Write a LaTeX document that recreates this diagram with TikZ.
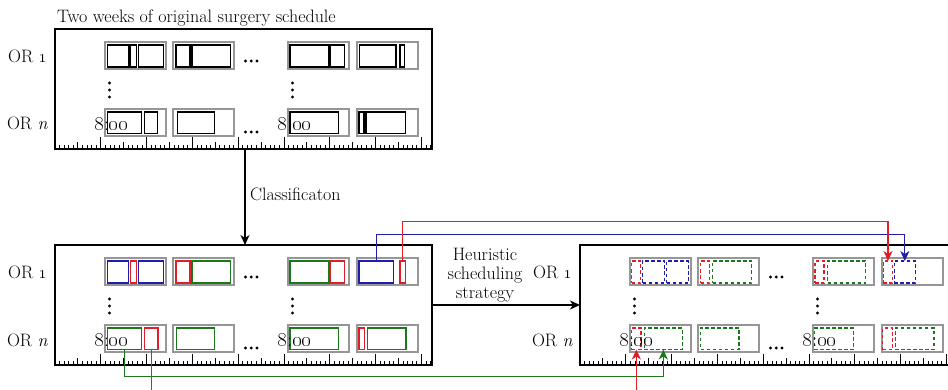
\documentclass[tikz,border=0pt]{standalone}
\usetikzlibrary{arrows.meta,calc}

\definecolor{jobblue}{RGB}{30,30,170}
\definecolor{jobred}{RGB}{225,30,40}
\definecolor{jobgreen}{RGB}{25,120,25}
\definecolor{slotgray}{RGB}{150,150,150}

\tikzset{
  every node/.style={font=\fontsize{18}{19}\selectfont, inner sep=0pt, outer sep=0pt},
  timelabel/.style={font=\fontsize{19.5}{20}\selectfont, anchor=base west},
  panel/.style={draw=black, line width=1.4pt, minimum width=377pt, minimum height=120pt, anchor=north west},
  tickline/.style={line width=0.9pt},
  slotbox/.style={draw=slotgray, line width=1.7pt, minimum width=61pt, minimum height=27pt, anchor=north west},
  blk/.style={draw=black, line width=1.15pt},
  blu/.style={draw=jobblue, line width=1.15pt},
  rd/.style={draw=jobred, line width=1.15pt},
  grn/.style={draw=jobgreen, line width=1.15pt},
  dashjob/.style={line width=1.15pt, dash pattern=on 3.5pt off 2.5pt},
  dblu/.style={draw=jobblue, dashjob},
  drd/.style={draw=jobred, dashjob},
  dgrn/.style={draw=jobgreen, dashjob},
  flow/.style={line width=1.2pt, -{Stealth[length=10pt,width=9pt,inset=3pt]}},
  link/.style={line width=1.1pt, -{Stealth[length=10pt,width=9pt,inset=3pt]}}
}

% one job: style, name, left, right, top, bottom (panel-relative)
\newcommand\jobbox[6]{%
  \node[#1, minimum width={(#4)-(#3)}, minimum height={(#6)-(#5)}] (#2) at ({(#3+#4)/2},{(#5+#6)/2}) {};}
\newcommand\jobone[4]{\jobbox{#1}{#2}{#3}{#4}{16}{38}}
\newcommand\jobnth[4]{\jobbox{#1}{#2}{#3}{#4}{83}{104.5}}

% frame, time ruler, day slots and row labels of one schedule panel
\newcommand\drawpanel[1]{%
  \node[panel] (#1) at (0,0) {};
  \foreach \i in {0,...,82}{%
    \pgfmathsetmacro\tk{mod(\i,10)==0 ? 11.5 : (mod(\i,5)==0 ? 7 : 4)}%
    \draw[tickline] (\i*4.58,120) -- ++(0,-\tk);
  }
  \foreach \rw/\yy in {1/13,n/80}{%
    \foreach \cl/\xx in {1/50,2/118,3/233,4/302}{%
      \node[slotbox] (#1-slot\rw\cl) at (\xx,\yy) {};
    }
  }
  \foreach \xx in {54.5,237.5}{\foreach \yy in {54,61,68}{\fill (\xx,\yy) circle[radius=1.7pt];}}
  \foreach \xx in {190.5,196.3,202}{\foreach \yy in {32,103}{\fill (\xx,\yy) circle[radius=1.6pt];}}
  \node[anchor=base] (#1-or1) at (-27.5,34) {OR \oldstylenums{1}};
  \node[anchor=base] (#1-orn) at (-27.5,101) {OR \textit{n}};
}
\newcommand\startlabels[1]{%
  \node[timelabel] (#1-ta) at (39.5,101.5) {\oldstylenums{8}:\oldstylenums{00}};
  \node[timelabel] (#1-tb) at (222.8,101.5) {\oldstylenums{8}:\oldstylenums{00}};
}

\begin{document}
\begin{tikzpicture}[x=1pt,y=-1pt]
\useasboundingbox (0,0) rectangle (948,390);
\clip (0,0) rectangle (948,390);

\node[anchor=base west] (title) at (57,22.5) {Two weeks of original surgery schedule};

% original schedule
\begin{scope}[shift={(55,29)}]
  \drawpanel{orig}
  \jobone{blk}{orig-b1a}{52.3}{74}
  \jobone{blk}{orig-b1b}{75.3}{81.7}
  \jobone{blk}{orig-b1c}{83.3}{108.3}
  \jobone{blk}{orig-b2a}{121}{135}
  \jobone{blk}{orig-b2b}{137}{175.7}
  \jobone{blk}{orig-b3a}{235}{274}
  \jobone{blk}{orig-b3b}{275.7}{289.7}
  \jobone{blk}{orig-b4a}{304.3}{341}
  \jobone{blk}{orig-b4b}{345}{349.7}
  \jobnth{blk}{orig-n1a}{52.3}{86.7}
  \jobnth{blk}{orig-n1b}{89.3}{102.3}
  \jobnth{blk}{orig-n2a}{122.3}{159.3}
  \jobnth{blk}{orig-n3a}{235}{283.3}
  \jobnth{blk}{orig-n4a}{304}{309}
  \jobnth{blk}{orig-n4b}{311}{350.3}
  \startlabels{orig}
\end{scope}

% classified schedule
\begin{scope}[shift={(55,245)}]
  \drawpanel{sched}
  \jobone{blu}{sched-b1a}{52.7}{73.7}
  \jobone{rd}{sched-b1b}{75.3}{81.7}
  \jobone{blu}{sched-b1c}{83.7}{108.3}
  \jobone{rd}{sched-b2a}{121}{135}
  \jobone{grn}{sched-b2b}{137}{175.7}
  \jobone{grn}{sched-b3a}{235}{274}
  \jobone{rd}{sched-b3b}{275.7}{289.7}
  \jobone{blu}{sched-b4a}{304}{338.3}
  \jobone{rd}{sched-b4b}{345}{350.3}
  \jobnth{grn}{sched-n1a}{52.7}{86.7}
  \jobnth{rd}{sched-n1b}{89.3}{103}
  \jobnth{grn}{sched-n2a}{121.7}{159.3}
  \jobnth{grn}{sched-n3a}{235}{283.3}
  \jobnth{rd}{sched-n4a}{304}{309.7}
  \jobnth{grn}{sched-n4b}{312.7}{351}
  \startlabels{sched}
\end{scope}

% rescheduled result
\begin{scope}[shift={(580,245)}]
  \drawpanel{result}
  \jobone{drd}{result-b1a}{51.7}{60.7}
  \jobone{dblu}{result-b1b}{62.5}{84.5}
  \jobone{dblu}{result-b1c}{86.7}{108.3}
  \jobone{drd}{result-b2a}{120.5}{129.5}
  \jobone{dgrn}{result-b2b}{132.7}{171.7}
  \jobone{drd}{result-b3a}{235}{244}
  \jobone{dgrn}{result-b3b}{247.7}{285.7}
  \jobone{drd}{result-b4a}{303.3}{312.7}
  \jobone{dblu}{result-b4b}{314.3}{335.3}
  \jobnth{drd}{result-n1a}{51.7}{61}
  \jobnth{dgrn}{result-n1b}{64.3}{102.3}
  \jobnth{dgrn}{result-n2a}{120.7}{159}
  \jobnth{dgrn}{result-n3a}{234.3}{273.3}
  \jobnth{drd}{result-n4a}{302.7}{312.7}
  \jobnth{dgrn}{result-n4b}{315.3}{354}
  \startlabels{result}
\end{scope}

% processing steps
\draw[flow] ($(orig.south west)+(190,0)$) -- ($(sched.north west)+(190,0)$);
\node[anchor=base west] (cls) at (250,201) {Classificaton};
\draw[flow] (sched.east) -- (result.west);
\node[align=center] (heur) at (485,275) {Heuristic\\scheduling\\strategy};

% moved jobs
\draw[link, jobblue] (sched-b4a.north) -- ++(0,-26.5) -| (result-b4b.north);
\draw[link, jobred] (sched-b4b.north) -- ++(0,-39.3) -| (result-b4a.north);
\draw[link, jobgreen] (sched-n1a.south) -- ++(0,27.2) -| (result-n1b.south);
\draw[link, jobred] (sched-n1b.south) -- ++(0,60) -| (result-n1a.south);
\end{tikzpicture}
\end{document}
